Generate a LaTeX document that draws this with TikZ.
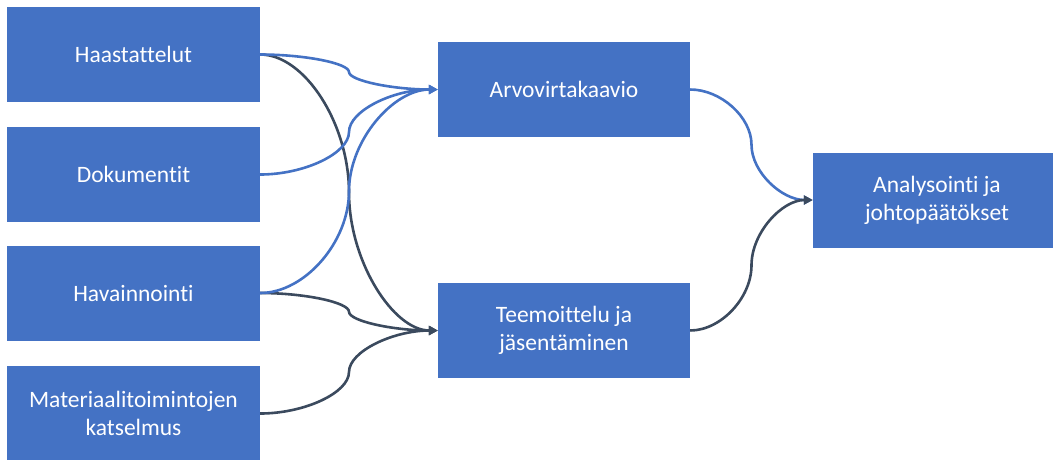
\documentclass[tikz,border=0pt]{standalone}
\usepackage{fontspec}
\setmainfont{Carlito}[Ligatures={NoCommon}]
\usetikzlibrary{calc,arrows.meta}
\definecolor{boxblue}{HTML}{4472C4}
\definecolor{darkline}{HTML}{3B4A5E}
\tikzset{
  box/.style={rectangle, fill=boxblue, minimum width=253pt, minimum height=95pt, inner sep=0pt,
    text=white, align=center, font=\fontsize{23.5}{28}\selectfont},
  conn/.style={line width=2.6pt, -{Triangle[length=9pt,width=9pt]}},
  blueconn/.style={conn, draw=boxblue},
  darkconn/.style={conn, draw=darkline},
}
\newcommand\curvconn[3]{%
  \draw[#1] let \p1=(#2), \p2=(#3), \n1={(\x1+\x2)/2}, \n2={(\y1+\y2)/2} in
    (\p1) .. controls ({(\x1+\n1)/2},\y1) and (\n1,{(3*\y1+\y2)/4}) .. (\n1,\n2)
    .. controls (\n1,{(\y1+3*\y2)/4}) and ({(\n1+\x2)/2},\y2) .. (\p2);}
\begin{document}
\begin{tikzpicture}[x=1pt,y=-1pt]
\useasboundingbox (0,0) rectangle (1053,459);
\clip (0,0) rectangle (1053,459);
\node[box] (haas) at (133.5,54.5) {Haastattelut};
\node[box] (doku) at (133.5,174.5) {Dokumentit};
\node[box] (hava) at (133.5,293) {Havainnointi};
\node[box] (mate) at (133.5,413.5) {Materiaalitoimintojen\\katselmus};
\node[box, minimum width=252pt] (arvo) at (564,89.5) {Arvovirtakaavio};
\node[box, minimum width=252pt] (teem) at (564,330.5) {Teemoittelu ja\\jäsentäminen};
\node[box, minimum width=248pt] (anal) at (937,200) {Analysointi ja\\johtopäätökset};
\curvconn{darkconn}{haas.east}{teem.west}
\curvconn{darkconn}{hava.east}{teem.west}
\curvconn{darkconn}{mate.east}{teem.west}
\curvconn{blueconn}{haas.east}{arvo.west}
\curvconn{blueconn}{doku.east}{arvo.west}
\curvconn{blueconn}{hava.east}{arvo.west}
\curvconn{blueconn}{arvo.east}{anal.west}
\curvconn{darkconn}{teem.east}{anal.west}
\end{tikzpicture}
\end{document}
